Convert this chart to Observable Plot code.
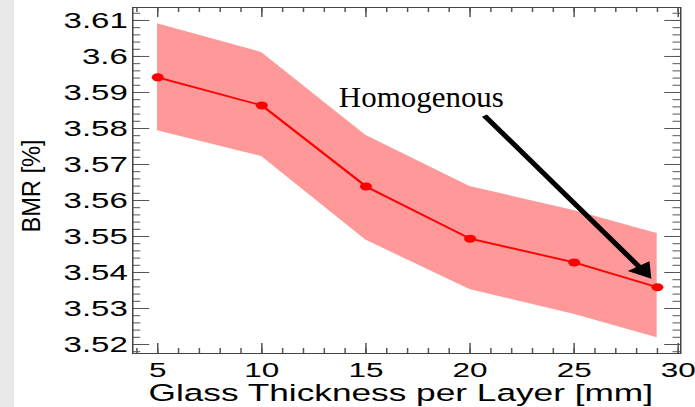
<!DOCTYPE html>
<html>
<head>
<meta charset="utf-8">
<script src="https://cdn.jsdelivr.net/npm/d3@7"></script>
<script src="https://cdn.jsdelivr.net/npm/@observablehq/plot@0.6"></script>
<style>
  html, body { margin: 0; padding: 0; background: #ffffff; }
  #wrap { position: relative; width: 695px; height: 407px; overflow: hidden; }
  #strip { position: absolute; left: 0; top: 0; width: 14px; height: 407px; background: #e8e8e8; }
</style>
</head>
<body>
<div id="wrap"><div id="chart"></div><div id="strip"></div></div>
<script>
// Data
const thickness = [5, 10, 15, 20, 25, 29];
const bmr      = [3.5942, 3.5864, 3.5639, 3.5494, 3.5428, 3.5359];
const bmrLow   = [3.5794, 3.5722, 3.5490, 3.5353, 3.5284, 3.5219];
const bmrHigh  = [3.6091, 3.6011, 3.5781, 3.5639, 3.5572, 3.5508];

const xTicks = [5, 10, 15, 20, 25, 30];
const xTickLabels = ["5", "10", "15", "20", "25", "30"];
const yTicks = [3.52, 3.53, 3.54, 3.55, 3.56, 3.57, 3.58, 3.59, 3.60, 3.61];
const yTickLabels = ["3.52", "3.53", "3.54", "3.55", "3.56", "3.57", "3.58", "3.59", "3.6", "3.61"];
const xMinorTicks = d3.range(4, 31, 1);
const yMinorTicks = d3.range(3518, 3613, 2).map(v => v / 1000);

const xTitle = "Glass Thickness per Layer [mm]";
const yTitle = "BMR [%]";
const annotationText = "Homogenous";
const annotationPos = [{x: 13.7, y: 3.5886}];
const arrowShaft = [{x1: 20.69, y1: 3.5836, x2: 28.30, y2: 3.5406}];
const arrowHead = [{x: 28.30, y: 3.5406, angle: 145.8}];

const data = thickness.map((t, i) => ({t, v: bmr[i], lo: bmrLow[i], hi: bmrHigh[i]}));

const SX = 1.5;              // horizontal stretch of the original picture
const W = 695 / SX, H = 407;
const mL = 88, mR = 10, mT = 7, mB = 54;
const frameH = H - mT - mB, frameW = W - mL - mR;
const tickColor = "#555";

const chart = Plot.plot({
  width: W,
  height: H,
  marginLeft: mL, marginRight: mR, marginTop: mT, marginBottom: mB,
  style: {fontFamily: "'Liberation Sans', Arial, Helvetica, sans-serif", fontSize: "22px", background: "transparent", color: "black"},
  x: {domain: [3.8, 30.12]},
  y: {domain: [3.5175, 3.6136]},
  marks: [
    Plot.areaY(data, {x: "t", y1: "lo", y2: "hi", fill: "#ff9999"}),
    Plot.line(data, {x: "t", y: "v", stroke: "#ff0000", strokeWidth: 1.8}),
    Plot.dot(data, {x: "t", y: "v", r: 4, fill: "#ff0000"}),
    // inward ticks: bottom & top
    Plot.tickX(xMinorTicks, {x: d => d, insetTop: frameH - 5, stroke: tickColor}),
    Plot.tickX(xTicks, {x: d => d, insetTop: frameH - 10, stroke: tickColor}),
    Plot.tickX(xMinorTicks, {x: d => d, insetBottom: frameH - 5, stroke: tickColor}),
    Plot.tickX(xTicks, {x: d => d, insetBottom: frameH - 10, stroke: tickColor}),
    // inward ticks: left & right
    Plot.tickY(yMinorTicks, {y: d => d, insetRight: frameW - 5.5, stroke: tickColor}),
    Plot.tickY(yTicks, {y: d => d, insetRight: frameW - 11.5, stroke: tickColor}),
    Plot.tickY(yMinorTicks, {y: d => d, insetLeft: frameW - 5, stroke: tickColor}),
    Plot.tickY(yTicks, {y: d => d, insetLeft: frameW - 10.5, stroke: tickColor}),
    Plot.frame({stroke: "#444", strokeWidth: 1}),
    Plot.axisX(xTicks, {tickSize: 0, tickPadding: 8.5, fontSize: 21, label: null,
      tickFormat: d => xTickLabels[xTicks.indexOf(d)]}),
    Plot.axisY(yTicks, {tickSize: 0, tickPadding: 3.3, fontSize: 22, label: null,
      tickFormat: d => yTickLabels[yTicks.indexOf(d)]}),
    Plot.text([xTitle], {frameAnchor: "bottom", dy: 39.5, dx: -4, fontSize: 23.5, lineAnchor: "middle", fill: "black"}),
    Plot.text([yTitle], {frameAnchor: "left", rotate: -90, dx: -67.3, dy: 52, textAnchor: "start", fontSize: 17, lineAnchor: "middle", fill: "black"}),
    Plot.link(arrowShaft, {x1: "x1", y1: "y1", x2: "x2", y2: "y2", stroke: "black", strokeWidth: 4}),
    Plot.dot(arrowHead, {x: "x", y: "y", symbol: "triangle", rotate: "angle", r: 6.5, fill: "black", stroke: "none"}),
    Plot.text(annotationPos, {x: "x", y: "y", text: () => annotationText, textAnchor: "start", lineAnchor: "middle",
      fontFamily: "'Liberation Serif', 'Times New Roman', serif", fontSize: 29, fill: "black"})
  ]
});

chart.setAttribute("width", 695);
chart.setAttribute("height", H);
chart.setAttribute("preserveAspectRatio", "none");
chart.style.width = "695px";
chart.style.height = H + "px";
chart.style.maxWidth = "none";
document.getElementById("chart").appendChild(chart);

// Texts that were not stretched in the original: compensate / set exact lengths
chart.querySelectorAll("text").forEach(t => {
  if (t.textContent === annotationText) {
    t.setAttribute("textLength", 165 / SX);
    t.setAttribute("lengthAdjust", "spacingAndGlyphs");
  } else if (t.textContent === yTitle) {
    t.setAttribute("textLength", 93);
    t.setAttribute("lengthAdjust", "spacingAndGlyphs");
  }
});
</script>
</body>
</html>
